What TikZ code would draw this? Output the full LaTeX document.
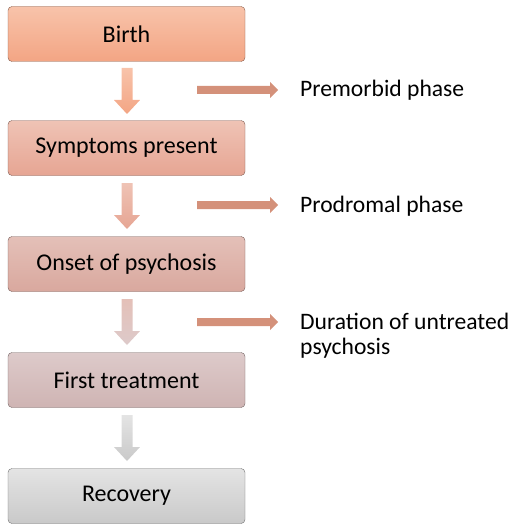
\documentclass[tikz,border=0pt]{standalone}
\usepackage{fontspec}
\setmainfont{Carlito}
\usetikzlibrary{positioning}
\definecolor{rarr}{HTML}{D4917A}
\tikzset{
  box/.style={draw=#1!55!black, rounded corners=4pt, minimum width=237pt, minimum height=55pt,
    font=\fontsize{24}{25}\selectfont, text=black, inner sep=0pt},
  lbl/.style={anchor=base west, align=left, font=\fontsize{23.6}{25}\selectfont, inner sep=0pt},
}
\newcommand\darr[5]{% x, ytop, ytip, topcolor, bottomcolor
  \shade[top color=#4, bottom color=#5] (#1-5.5,#2) -- (#1+5.5,#2) -- (#1+5.5,#3-14) -- (#1+13,#3-14) -- (#1,#3) -- (#1-13,#3-14) -- (#1-5.5,#3-14) -- cycle;}
\newcommand\rarr[2]{% xstart, y
  \fill[rarr] (#1,#2-4) -- (#1+73,#2-4) -- (#1+73,#2-8) -- (#1+81,#2) -- (#1+73,#2+8) -- (#1+73,#2+4) -- (#1,#2+4) -- cycle;}
\begin{document}
\begin{tikzpicture}[x=1pt,y=-1pt]
\useasboundingbox (0,0) rectangle (520,524);
\definecolor{b1t}{HTML}{F8C3AA}\definecolor{b1b}{HTML}{F3A584}
\definecolor{b2t}{HTML}{EFC3B5}\definecolor{b2b}{HTML}{E6A593}
\definecolor{b3t}{HTML}{E4C0B8}\definecolor{b3b}{HTML}{D9A89E}
\definecolor{b4t}{HTML}{DDCACA}\definecolor{b4b}{HTML}{CFB4B3}
\definecolor{b5t}{HTML}{E4E4E4}\definecolor{b5b}{HTML}{C9C9C9}
\node[box=b1b, top color=b1t, bottom color=b1b] (birth) at (126.5,34) {Birth};
\node[box=b2b, top color=b2t, bottom color=b2b] (sym) at (126.5,148) {Symptoms present};
\node[box=b3b, top color=b3t, bottom color=b3b] (onset) at (126.5,264) {Onset of psychosis};
\node[box=b4b, top color=b4t, bottom color=b4b] (first) at (126.5,380) {First treatment};
\node[box=b5b, top color=b5t, bottom color=b5b] (rec) at (126.5,496) {Recovery};
\darr{127}{68}{114}{b1t}{b1b}
\darr{127}{183}{229}{b2t}{b2b}
\darr{127}{299}{345}{b3t}{b4t}
\darr{127}{415}{461}{b5t}{b5b}
\rarr{197}{90}
\rarr{197}{205}
\rarr{197}{322}
\node[lbl] (pre) at (300,97) {Premorbid phase};
\node[lbl] (pro) at (300,212) {Prodromal phase};
\node[lbl] (dup) at (300,354) {Duration of untreated\\psychosis};
\end{tikzpicture}
\end{document}
